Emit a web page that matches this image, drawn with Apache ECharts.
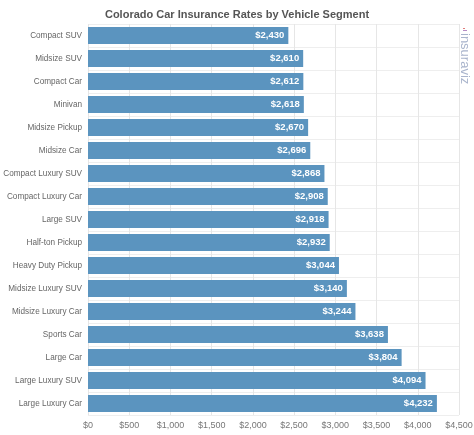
<!DOCTYPE html>
<html>
<head>
<meta charset="utf-8">
<script src="https://cdn.jsdelivr.net/npm/echarts@6/dist/echarts.min.js"></script>
<style>
  html, body { margin: 0; padding: 0; background: #fff; }
  #main { width: 474px; height: 435px; }
</style>
</head>
<body>
<div id="main"></div>
<script>
// categories top to bottom
const segments = [
  'Compact SUV', 'Midsize SUV', 'Compact Car', 'Minivan', 'Midsize Pickup',
  'Midsize Car', 'Compact Luxury SUV', 'Compact Luxury Car', 'Large SUV',
  'Half-ton Pickup', 'Heavy Duty Pickup', 'Midsize Luxury SUV',
  'Midsize Luxury Car', 'Sports Car', 'Large Car', 'Large Luxury SUV',
  'Large Luxury Car'
]
const rates = [
  2430, 2610, 2612, 2618, 2670, 2696, 2868, 2908, 2918, 2932,
  3044, 3140, 3244, 3638, 3804, 4094, 4232
]

const money = v => '$' + v.toLocaleString('en-US')

const myChart = echarts.init(document.getElementById('main'))

const option = {
  animation: false,
  title: {
    text: 'Colorado Car Insurance Rates by Vehicle Segment',
    left: 'center',
    top: 4,
    textStyle: { fontFamily: 'Liberation Sans, Arial', fontSize: 11, fontWeight: 'bold', color: '#555' }
  },
  grid: { left: 88, right: 15, top: 24, bottom: 20, containLabel: false, outerBoundsMode: 'none' },
  xAxis: {
    type: 'value',
    min: 0,
    max: 4500,
    interval: 500,
    axisLine: { show: false },
    axisTick: { show: false },
    splitLine: { lineStyle: { color: '#e6e6e6' } },
    axisLabel: {
      formatter: money,
      color: '#777',
      fontFamily: 'Liberation Sans, Arial',
      fontSize: 9,
      margin: 6
    }
  },
  yAxis: {
    type: 'category',
    inverse: true,
    data: segments,
    axisLine: { show: false },
    axisTick: { show: false },
    splitLine: { show: true, lineStyle: { color: '#eeeeee' } },
    axisLabel: {
      color: '#666',
      fontFamily: 'Liberation Sans, Arial',
      fontSize: 8.2,
      margin: 6
    }
  },
  series: [{
    type: 'bar',
    data: rates,
    barWidth: 17,
    itemStyle: { color: '#5b94bf' },
    label: {
      show: true,
      position: 'insideRight',
      formatter: p => money(p.value),
      color: '#fff',
      fontWeight: 'bold',
      fontFamily: 'Liberation Sans, Arial',
      fontSize: 9.5,
      distance: 4
    }
  }],
  graphic: [
    { type: 'rect', left: 463, top: 28, shape: { width: 2, height: 1 }, style: { fill: '#e07b7b' } },
    { type: 'rect', left: 463, top: 30, shape: { width: 4, height: 1 }, style: { fill: '#b58bc4' } },
    {
      type: 'text',
      right: 3,
      top: 33,
      rotation: -Math.PI / 2,
      style: {
        text: 'insuraviz',
        fill: '#a9b4cc',
        font: '13px Liberation Sans, Arial'
      }
    }
  ]
}

myChart.setOption(option)
</script>
</body>
</html>
